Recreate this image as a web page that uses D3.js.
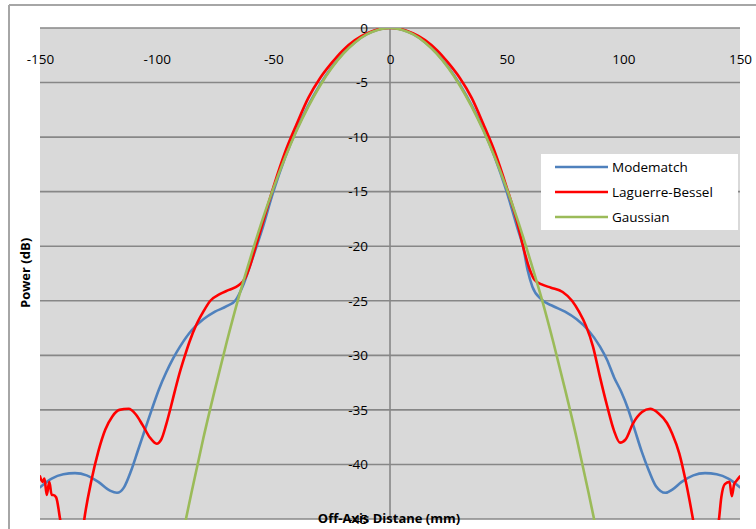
<!DOCTYPE html>
<html>
<head>
<meta charset="utf-8">
<script src="https://cdn.jsdelivr.net/npm/d3@7"></script>
<style>
  html, body { margin: 0; padding: 0; background: #ffffff; }
  svg { display: block; font-family: "Open Sans", Lato, sans-serif; }
</style>
</head>
<body>
<svg id="chart" width="756" height="529"></svg>
<script>
// Tick values for both axes
const xTicks = [-150, -100, -50, 0, 50, 100, 150];
const yTicks = [0, -5, -10, -15, -20, -25, -30, -35, -40, -45];

// Series names and colours
const seriesNames = ["Modematch", "Laguerre-Bessel", "Gaussian"];
const seriesColors = ["#4f81bd", "#ff0000", "#9bbb59"];

// Modematch: off-axis distance (mm) and power (dB)
const modeX = [-150, -145, -140, -135, -130, -125, -120, -117, -114, -111, -108, -105, -102, -99, -96, -93, -90, -85, -80, -75, -70, -66, -63, -60, -57, -55, -50, -45, -40, -35, -30, -25, -20, -15, -10, -5, 0,
               5, 10, 15, 20, 25, 30, 35, 40, 45, 50, 55, 57, 59, 61, 65, 70, 75, 80, 85, 90, 93, 96, 99, 102, 105, 108, 111, 114, 118, 121, 125, 130, 135, 140, 145, 150];
const modeY = [-42.1, -41.3, -40.9, -40.8, -41.0, -41.6, -42.4, -42.6, -42.1, -40.6, -38.7, -36.8, -34.9, -33.1, -31.6, -30.3, -29.2, -27.7, -26.7, -26.0, -25.5, -24.9, -23.6, -21.8, -19.9, -18.6, -15.0, -11.9, -9.3, -7.1, -5.2, -3.6, -2.3, -1.3, -0.57, -0.14, 0,
               -0.14, -0.57, -1.3, -2.3, -3.6, -5.2, -7.1, -9.3, -11.9, -15.0, -18.6, -20.0, -22.2, -23.7, -24.9, -25.5, -26.0, -26.7, -27.7, -29.2, -30.4, -32.0, -33.3, -34.9, -36.9, -38.9, -40.6, -42.0, -42.6, -42.3, -41.6, -41.0, -40.8, -40.9, -41.3, -42.1];

// Laguerre-Bessel: off-axis distance (mm) and power (dB)
const lbX = [-150, -148.9, -148.1, -147.1, -146, -145, -144.3, -143.1, -141.4, -139, -136, -133, -131, -128, -125, -122, -119, -116, -112, -109, -106, -103, -100, -98, -96, -94, -92, -90, -88, -86, -83, -80, -77, -73, -69, -65, -62, -60, -57.5, -55, -50, -45, -40, -35, -30, -25, -20, -15, -10, -5, 0,
             5, 10, 15, 20, 25, 30, 35, 40, 45, 50, 55, 57, 60, 62, 65, 69, 74, 78, 81, 84, 87, 90, 93, 96, 98.6, 101, 104, 108, 111.5, 115, 118.7, 121, 124, 127, 130, 133, 136, 139, 141, 142, 143.5, 145.5, 146.5, 147.5, 148.5, 150];
const lbY = [-41.1, -41.6, -41.3, -42.8, -41.6, -42.8, -42.8, -43.0, -45.0, -48.5, -51.0, -48.5, -45.0, -41.5, -38.8, -36.8, -35.6, -35.0, -34.9, -35.4, -36.4, -37.5, -38.1, -37.7, -36.4, -34.8, -33.1, -31.5, -30.1, -28.8, -27.2, -26.0, -25.0, -24.4, -24.0, -23.6, -22.9, -21.8, -20.0, -18.2, -14.6, -11.4, -8.8, -6.4, -4.6, -3.2, -2.0, -1.1, -0.5, -0.12, 0,
             -0.12, -0.5, -1.1, -2.0, -3.2, -4.6, -6.4, -8.8, -11.4, -14.6, -18.2, -20.0, -22.2, -23.1, -23.5, -23.8, -24.2, -25.0, -26.0, -27.3, -29.2, -32.0, -34.6, -36.9, -38.0, -37.7, -36.3, -35.2, -34.9, -35.3, -36.2, -37.2, -39.0, -41.8, -45.2, -49.0, -51.0, -48.0, -45.0, -43.0, -41.8, -41.6, -42.9, -41.8, -41.5, -41.1];

// Gaussian: off-axis distance (mm) and power (dB)
const gaussX = [-90, -85, -80, -75, -70, -65, -60, -55, -50, -45, -40, -35, -30, -25, -20, -15, -10, -5, 0, 5, 10, 15, 20, 25, 30, 35, 40, 45, 50, 55, 60, 65, 70, 75, 80, 85, 90];
const gaussY = [-47.6, -42.5, -37.6, -33.1, -28.8, -24.8, -21.2, -17.8, -14.7, -11.9, -9.4, -7.2, -5.29, -3.67, -2.35, -1.32, -0.59, -0.15, 0, -0.15, -0.59, -1.32, -2.35, -3.67, -5.29, -7.2, -9.4, -11.9, -14.7, -17.8, -21.2, -24.8, -28.8, -33.1, -37.6, -42.5, -47.6];

const series = [
  { name: seriesNames[0], color: seriesColors[0], xs: modeX, ys: modeY },
  { name: seriesNames[1], color: seriesColors[1], xs: lbX, ys: lbY },
  { name: seriesNames[2], color: seriesColors[2], xs: gaussX, ys: gaussY }
];

const plot = { left: 40, right: 740, top: 28, bottom: 519 };
const gridColor = "#878787";
const labelFont = 13.5;

const svg = d3.select("#chart");

const x = d3.scaleLinear().domain([-150, 150]).range([plot.left, plot.right]);
const y = d3.scaleLinear().domain([0, -45]).range([plot.top, plot.bottom]);

// Outer chart frame (top and left edges visible)
svg.append("line").attr("x1", 9).attr("x2", 756).attr("y1", 5).attr("y2", 5)
  .attr("stroke", "#a6a6a6").attr("stroke-width", 2);
svg.append("line").attr("x1", 9).attr("x2", 9).attr("y1", 5).attr("y2", 529)
  .attr("stroke", "#a6a6a6").attr("stroke-width", 2);

// Plot background
svg.append("rect")
  .attr("x", plot.left).attr("y", plot.top)
  .attr("width", plot.right - plot.left).attr("height", plot.bottom - plot.top)
  .attr("fill", "#d9d9d9");

// Horizontal gridlines
svg.append("g").selectAll("line").data(yTicks).join("line")
  .attr("x1", plot.left).attr("x2", plot.right)
  .attr("y1", d => y(d)).attr("y2", d => y(d))
  .attr("stroke", gridColor).attr("stroke-width", 1.6);

// Vertical axis line at zero
svg.append("line")
  .attr("x1", x(0)).attr("x2", x(0)).attr("y1", plot.top).attr("y2", plot.bottom)
  .attr("stroke", gridColor).attr("stroke-width", 1.6);

const plainNumber = d => String(d);

// X axis labels (placed below the top axis line)
const xAxis = svg.append("g")
  .attr("transform", `translate(0,${plot.top})`)
  .call(d3.axisBottom(x).tickValues(xTicks).tickSize(0).tickPadding(26).tickFormat(plainNumber));
xAxis.select(".domain").remove();
xAxis.selectAll("text").attr("font-size", labelFont).attr("fill", "#000")
  .style("font-family", "'Open Sans', Lato, sans-serif");

// Y axis labels along the zero line
const yAxis = svg.append("g")
  .attr("transform", `translate(${x(0)},0)`)
  .call(d3.axisLeft(y).tickValues(yTicks).tickSize(0).tickPadding(22).tickFormat(plainNumber));
yAxis.select(".domain").remove();
yAxis.selectAll("text").attr("font-size", labelFont).attr("fill", "#000")
  .style("font-family", "'Open Sans', Lato, sans-serif");

// Clip the series to the plot area
svg.append("defs").append("clipPath").attr("id", "plotClip")
  .append("rect")
  .attr("x", plot.left).attr("y", plot.top)
  .attr("width", plot.right - plot.left).attr("height", plot.bottom - plot.top + 1);

const line = d3.line()
  .x(d => x(d[0]))
  .y(d => y(d[1]))
  .curve(d3.curveMonotoneX);

svg.append("g").attr("clip-path", "url(#plotClip)")
  .selectAll("path").data(series).join("path")
  .attr("d", s => line(s.xs.map((v, i) => [v, s.ys[i]])))
  .attr("fill", "none")
  .attr("stroke", s => s.color)
  .attr("stroke-width", 2.6)
  .attr("stroke-linejoin", "round")
  .attr("stroke-linecap", "round");

// Legend
const legend = svg.append("g");
legend.append("rect")
  .attr("x", 541).attr("y", 154).attr("width", 197).attr("height", 76)
  .attr("fill", "#ffffff");
const legendRows = legend.selectAll("g.row").data(series).join("g")
  .attr("class", "row")
  .attr("transform", (d, i) => `translate(0,${167 + i * 25})`);
legendRows.append("line")
  .attr("x1", 555).attr("x2", 608).attr("y1", 0).attr("y2", 0)
  .attr("stroke", d => d.color).attr("stroke-width", 2.6);
legendRows.append("text")
  .attr("x", 612).attr("y", 0).attr("dy", "0.35em")
  .attr("font-size", labelFont).attr("fill", "#000")
  .text(d => d.name);

// Axis titles
svg.append("text")
  .attr("x", 389).attr("y", 518).attr("dy", "0.35em")
  .attr("text-anchor", "middle")
  .attr("font-size", 13).attr("font-weight", "bold").attr("fill", "#000")
  .text("Off-Axis Distane (mm)");

svg.append("text")
  .attr("transform", "translate(25,273) rotate(-90)")
  .attr("dy", "0.35em")
  .attr("text-anchor", "middle")
  .attr("font-size", 13).attr("font-weight", "bold").attr("fill", "#000")
  .text("Power (dB)");
</script>
</body>
</html>
